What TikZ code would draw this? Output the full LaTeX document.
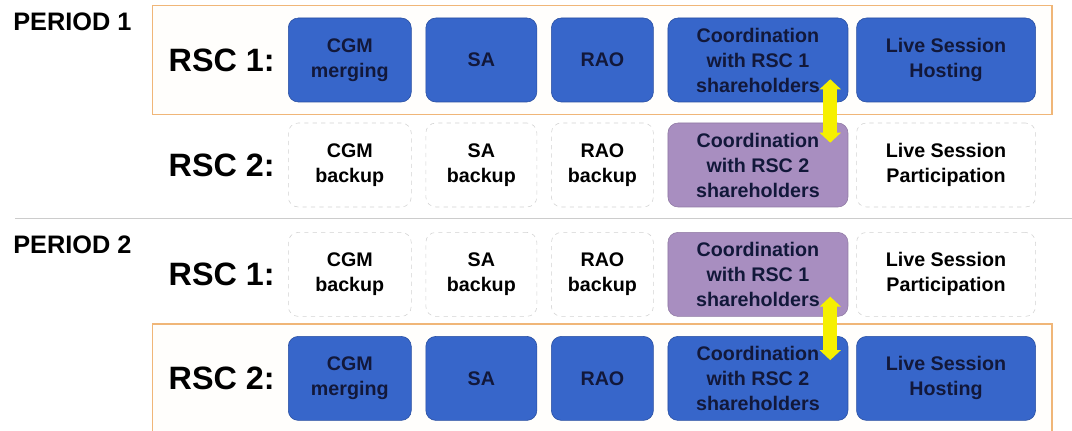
\documentclass[tikz,border=0pt]{standalone}
\usepackage{fontspec}
\setmainfont{Liberation Sans}
\usepackage{xcolor}
\usetikzlibrary{backgrounds}
\usetikzlibrary{positioning, fit, arrows.meta}

\definecolor{taskblue}{RGB}{55,102,202}
\definecolor{taskedge}{RGB}{40,78,160}
\definecolor{tasktext}{RGB}{18,24,58}
\definecolor{coordpurple}{RGB}{168,142,192}
\definecolor{frameorange}{RGB}{240,182,120}
\definecolor{swapyellow}{RGB}{246,240,0}

\begin{document}
\begin{tikzpicture}[node distance={3.5mm},
    task/.style = {rounded corners=2.5mm, minimum height=21mm, inner sep=0pt, align=center, font=\bfseries\fontsize{14}{17.8}\selectfont},
    host/.style = {task, fill=taskblue, draw=taskedge, text=tasktext},
    backup/.style = {task, draw=gray!35, dashed, fill=white},
    liaison/.style = {task, fill=coordpurple, draw=coordpurple!85!black, text=tasktext},
    cgm/.style = {minimum width=30.75mm},
    sa/.style = {minimum width=27.75mm},
    rao/.style = {minimum width=25.5mm},
    coord/.style = {minimum width=45mm},
    live/.style = {minimum width=44.75mm},
    rsc/.style = {font=\bfseries\fontsize{23}{26}\selectfont, inner sep=0pt},
    period/.style = {font=\bfseries\fontsize{18}{20}\selectfont, inner sep=0pt, anchor=west},
    frame/.style = {draw=frameorange, fill=orange!1, line width=1pt, inner xsep=4mm, inner ysep=3mm},
    swap/.style = {draw=swapyellow, line width=3.4mm, {Triangle[length=2.5mm,width=5.2mm]}-{Triangle[length=2.5mm,width=5.2mm]}}]

    \useasboundingbox (0,0) rectangle (268mm,-107.75mm);

    % Period 1
    \node[period] (p1) at (3.25mm,-5.5mm) {PERIOD 1};

    \node[host, cgm, anchor=west] (cgmA) at (72mm,-15mm) {CGM\\merging};
    \node[host, sa] (saA) [right=of cgmA] {SA};
    \node[host, rao] (raoA) [right=of saA] {RAO};
    \node[host, coord] (coordA) [right=of raoA] {Coordination\\with RSC 1\\shareholders};
    \node[host, live] (liveA) [right=2mm of coordA] {Live Session\\Hosting};
    \node[rsc] (rscA) [left=3.25mm of cgmA] {RSC 1:};

    \node[backup, cgm, anchor=west] (cgmB) at (72mm,-41.25mm) {CGM\\backup};
    \node[backup, sa] (saB) [right=of cgmB] {SA\\backup};
    \node[backup, rao] (raoB) [right=of saB] {RAO\\backup};
    \node[liaison, coord] (coordB) [right=of raoB] {Coordination\\with RSC 2\\shareholders};
    \node[backup, live] (liveB) [right=2mm of coordB] {Live Session\\Participation};
    \node[rsc] (rscB) [left=3.25mm of cgmB] {RSC 2:};

    % Period 2
    \node[period] (p2) at (3.25mm,-61.25mm) {PERIOD 2};

    \node[backup, cgm, anchor=west] (cgmC) at (72mm,-68.6mm) {CGM\\backup};
    \node[backup, sa] (saC) [right=of cgmC] {SA\\backup};
    \node[backup, rao] (raoC) [right=of saC] {RAO\\backup};
    \node[liaison, coord] (coordC) [right=of raoC] {Coordination\\with RSC 1\\shareholders};
    \node[backup, live] (liveC) [right=2mm of coordC] {Live Session\\Participation};
    \node[rsc] (rscC) [left=3.25mm of cgmC] {RSC 1:};

    \node[host, cgm, anchor=west] (cgmD) at (72mm,-94.6mm) {CGM\\merging};
    \node[host, sa] (saD) [right=of cgmD] {SA};
    \node[host, rao] (raoD) [right=of saD] {RAO};
    \node[host, coord] (coordD) [right=of raoD] {Coordination\\with RSC 2\\shareholders};
    \node[host, live] (liveD) [right=2mm of coordD] {Live Session\\Hosting};
    \node[rsc] (rscD) [left=3.25mm of cgmD] {RSC 2:};

    % Frames round the hosting RSC
    \begin{scope}[on background layer]
        \node[frame, fit=(rscA)(cgmA)(liveA)] (frameA) {};
        \node[frame, fit=(rscD)(cgmD)(liveD)] (frameD) {};
    \end{scope}

    % Separator
    \coordinate (sepL) at (3.75mm,-54.5mm);
    \coordinate (sepR) at (268mm,-54.5mm);
    \draw[gray!40] (sepL) -- (sepR);

    % Lines
    \draw[swap] ([xshift=-4.5mm,yshift=5.75mm]coordA.south east) -- ([xshift=-4.5mm,yshift=-5mm]coordB.north east);
    \draw[swap] ([xshift=-4.5mm,yshift=5mm]coordC.south east) -- ([xshift=-4.5mm,yshift=-6mm]coordD.north east);

\end{tikzpicture}
\end{document}
